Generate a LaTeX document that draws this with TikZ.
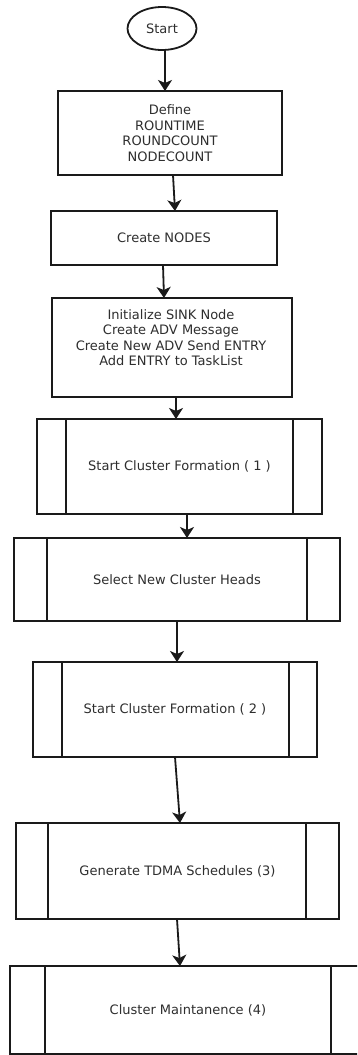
\documentclass[tikz,border=0pt]{standalone}
\usepackage{fontspec}
\setmainfont{DejaVu Sans}
\usetikzlibrary{shapes.geometric,arrows.meta}
\definecolor{ink}{HTML}{1A1A1A}
\definecolor{txt}{HTML}{2E2E2E}
\tikzset{
  base/.style={draw=ink, line width=1.8pt, inner sep=0pt, outer sep=0pt,
    text=txt, font=\fontsize{13}{15.5}\selectfont, align=center},
  terminal/.style={base, ellipse, minimum width=69pt, minimum height=43pt},
  procbox/.style={base, rectangle},
  label/.style={text=txt, inner sep=0pt, font=\fontsize{13}{15.5}\selectfont, align=center},
  flow/.style={draw=ink, line width=1.8pt,
    -{Stealth[length=11pt, width=14pt, inset=3pt]}},
  side/.style={draw=ink, line width=1.8pt}
}
\begin{document}
\begin{tikzpicture}[x=1pt, y=-1pt]
\clip (0,0) rectangle (357,1055);
\fill[white] (0,0) rectangle (357,1055);

% start terminal
\node[terminal] (st) at (162,28.5) {Start};

% plain process boxes
\node[procbox, minimum width=224pt, minimum height=84pt] (b1) at (170,133)
  {Define\\ROUNTIME\\ROUNDCOUNT\\NODECOUNT};
\node[procbox, minimum width=226pt, minimum height=54pt] (b2) at (164,238)
  {Create NODES};
\node[procbox, minimum width=240pt, minimum height=99pt] (b3) at (172,347.5) {};
\node[label] (b3t) at (171,337.5)
  {Initialize SINK Node\\Create ADV Message\\Create New ADV Send ENTRY\\Add ENTRY to TaskList};

% predefined-process boxes (double side bars)
\node[procbox, minimum width=285pt, minimum height=95pt] (b4) at (179.5,466.5)
  {Start Cluster Formation ( 1 )};
\node[procbox, minimum width=326pt, minimum height=83pt] (b5) at (177,579.5)
  {Select New Cluster Heads};
\node[procbox, minimum width=284pt, minimum height=95pt] (b6) at (175,709.5)
  {Start Cluster Formation ( 2 )};
\node[procbox, minimum width=323pt, minimum height=96pt] (b7) at (177.5,871)
  {Generate TDMA Schedules (3)};
\node[procbox, minimum width=356pt, minimum height=88pt] (b8) at (188,1010)
  {Cluster Maintanence (4)};

% side bars
\draw[side] ([xshift=29pt]b4.north west) -- ([xshift=29pt]b4.south west);
\draw[side] ([xshift=-29pt]b4.north east) -- ([xshift=-29pt]b4.south east);
\draw[side] ([xshift=33pt]b5.north west) -- ([xshift=33pt]b5.south west);
\draw[side] ([xshift=-33pt]b5.north east) -- ([xshift=-33pt]b5.south east);
\draw[side] ([xshift=29pt]b6.north west) -- ([xshift=29pt]b6.south west);
\draw[side] ([xshift=-28pt]b6.north east) -- ([xshift=-28pt]b6.south east);
\draw[side] ([xshift=32pt]b7.north west) -- ([xshift=32pt]b7.south west);
\draw[side] ([xshift=-33pt]b7.north east) -- ([xshift=-33pt]b7.south east);
\draw[side] ([xshift=35pt]b8.north west) -- ([xshift=35pt]b8.south west);
\draw[side] ([xshift=-35pt]b8.north east) -- ([xshift=-35pt]b8.south east);

% connectors
\draw[flow] ([xshift=3pt]st.south) -- ([xshift=-5pt]b1.north);
\draw[flow] ([xshift=3pt]b1.south) -- ([xshift=11pt]b2.north);
\draw[flow] ([xshift=-1pt]b2.south) -- ([xshift=-8pt]b3.north);
\draw[flow] ([xshift=4pt]b3.south) -- ([xshift=-3.5pt]b4.north);
\draw[flow] ([xshift=7.5pt]b4.south) -- ([xshift=10pt]b5.north);
\draw[flow] (b5.south) -- ([xshift=2pt]b6.north);
\draw[flow] (b6.south) -- ([xshift=2.5pt]b7.north);
\draw[flow] ([xshift=-0.5pt]b7.south) -- ([xshift=-8pt]b8.north);
\end{tikzpicture}
\end{document}
